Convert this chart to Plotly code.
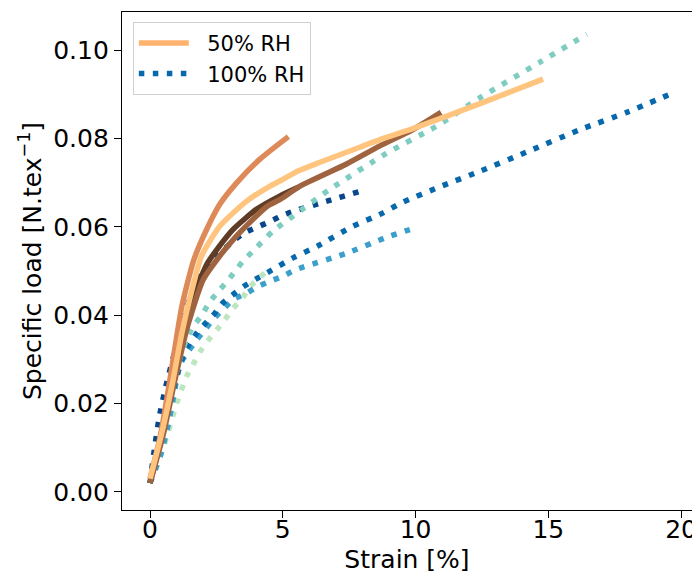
import plotly.graph_objects as go

# ---------------- data ----------------
# 50% RH curves (solid)
rh50_a_strain = [0, 0.4, 0.75, 1.2, 1.65, 2.14, 2.64, 3.27, 4.14, 5.21]
rh50_a_load = [0.003, 0.013, 0.0254, 0.042, 0.0525, 0.0595, 0.0652, 0.0700, 0.0753, 0.0804]

rh50_b_strain = [0, 0.45, 0.87, 1.2, 1.55, 1.95, 2.64, 3.64, 4.52, 5.0, 5.57, 6.4, 7.9, 8.66, 9.9, 12.4, 14.8]
rh50_b_load = [0.003, 0.0135, 0.0254, 0.036, 0.045, 0.0535, 0.0602, 0.0658, 0.0692, 0.0707, 0.0726,
               0.0746, 0.0780, 0.0797, 0.0822, 0.0878, 0.0934]

rh50_c_strain = [0, 0.5, 0.94, 1.39, 2.0, 2.64, 3.27, 4.4, 4.9, 5.65, 7.4, 8.66, 9.9, 10.96]
rh50_c_load = [0.002, 0.013, 0.0254, 0.037, 0.048, 0.0535, 0.058, 0.0646, 0.0662, 0.0692, 0.0742,
               0.0783, 0.082, 0.0859]

rh50_d_strain = [0, 0.5, 0.9, 1.5, 2.14, 2.6, 3.13, 4.02, 4.9, 5.6]
rh50_d_load = [0.002, 0.014, 0.026, 0.042, 0.0515, 0.0555, 0.0594, 0.064, 0.067, 0.0690]

# 100% RH curves (dotted)
rh100_e_strain = [0, 0.5, 0.9, 1.2, 1.39, 1.62, 1.96, 2.22, 2.52, 2.9, 3.2, 3.5, 3.88, 4.63, 5.4,
                  6.78, 8.9, 10.8, 12.4, 14.7, 16.45]
rh100_e_load = [0.002, 0.014, 0.025, 0.0317, 0.0347, 0.0374, 0.040, 0.0428, 0.045, 0.0476, 0.0499,
                0.0522, 0.0545, 0.059, 0.0625, 0.0685, 0.0766, 0.0828, 0.0891, 0.0973, 0.1036]

rh100_f_strain = [0, 0.15, 0.35, 0.6, 0.9, 1.3, 1.77, 2.3, 3.08, 3.58, 4.07, 4.52, 5.0, 5.5, 6.5, 7.9, 8.05]
rh100_f_load = [0.002, 0.009, 0.017, 0.024, 0.031, 0.040, 0.048, 0.052, 0.0565, 0.0587, 0.060,
                0.0612, 0.0626, 0.0637, 0.0655, 0.068, 0.0683]

rh100_g_strain = [0, 0.5, 1.0, 1.2, 1.43, 1.77, 2.14, 2.45, 2.75, 3.2, 3.58, 4.0, 4.44, 5.4, 6.3,
                  7.6, 8.66, 9.5, 10.9, 12.4, 14.3, 16.2, 18.0, 19.7]
rh100_g_load = [0.002, 0.014, 0.026, 0.030, 0.033, 0.036, 0.0385, 0.0405, 0.0428, 0.045, 0.0467,
                0.0482, 0.0497, 0.053, 0.0556, 0.060, 0.0628, 0.0655, 0.069, 0.0725, 0.0772,
                0.082, 0.086, 0.0903]

rh100_h_strain = [0, 0.38, 0.64, 0.87, 1.13, 1.43, 1.77, 2.07, 2.37, 2.75, 3.13, 3.65, 4.0, 4.5,
                  5.0, 5.5, 7.4, 8.9, 9.9]
rh100_h_load = [0.002, 0.008, 0.014, 0.021, 0.0288, 0.0317, 0.0345, 0.0367, 0.039, 0.0413, 0.0435,
                0.045, 0.0463, 0.0476, 0.0488, 0.0503, 0.054, 0.0576, 0.0596]

rh100_i_strain = [0, 0.5, 1.0, 1.39, 1.62, 1.88, 2.18, 2.52, 2.82, 3.13, 3.5, 3.77, 4.14, 4.5]
rh100_i_load = [0.002, 0.010, 0.020, 0.0263, 0.0288, 0.0317, 0.0342, 0.0367, 0.039, 0.0415, 0.044,
                0.0465, 0.0485, 0.0508]

x_ticks = [0, 5, 10, 15, 20]
y_ticks = [0.00, 0.02, 0.04, 0.06, 0.08, 0.10]
legend_labels = ["50% RH", "100% RH"]

# ---------------- styles ----------------
FONT = "DejaVu Sans"
LW = 5.5
DOT = "5.5px,8.5px"

dotted = [
    (rh100_i_strain, rh100_i_load, "#bde5bf"),
    (rh100_h_strain, rh100_h_load, "#3a9fcb"),
    (rh100_g_strain, rh100_g_load, "#0868ac"),
    (rh100_f_strain, rh100_f_load, "#08478b"),
    (rh100_e_strain, rh100_e_load, "#7fcdc1"),
]
solid = [
    (rh50_d_strain, rh50_d_load, "#5f3c26"),
    (rh50_c_strain, rh50_c_load, "#9f633f"),
    (rh50_a_strain, rh50_a_load, "#de8a58"),
    (rh50_b_strain, rh50_b_load, "#ffc47e"),
]

fig = go.Figure()
for xs, ys, c in dotted:
    fig.add_trace(go.Scatter(x=xs, y=ys, mode="lines", showlegend=False, hoverinfo="skip",
                             line=dict(color=c, width=LW, dash=DOT, shape="spline", smoothing=0.6)))
for xs, ys, c in solid:
    fig.add_trace(go.Scatter(x=xs, y=ys, mode="lines", showlegend=False, hoverinfo="skip",
                             line=dict(color=c, width=LW, shape="spline", smoothing=0.6)))

# legend entries
NBSP = "\u00a0"
fig.add_trace(go.Scatter(x=[None], y=[None], mode="lines", name=NBSP * 2 + legend_labels[0],
                         line=dict(color="#ffb36f", width=LW)))
fig.add_trace(go.Scatter(x=[None], y=[None], mode="lines", name=NBSP * 2 + legend_labels[1],
                         line=dict(color="#0868ac", width=LW, dash=DOT)))

fig.update_layout(
    width=692, height=577,
    margin=dict(l=122, r=0, t=12, b=67),
    paper_bgcolor="white", plot_bgcolor="white",
    font=dict(family=FONT, size=25, color="black"),
    showlegend=True,
    legend=dict(x=0.019, y=0.98, xanchor="left", yanchor="top",
                bgcolor="white", bordercolor="#d0d0d0", borderwidth=1,
                font=dict(family=FONT, size=21, color="black"),
                itemwidth=50, tracegroupgap=0),
)
fig.update_xaxes(
    range=[-1.055, 20.41], tickvals=x_ticks, ticktext=[str(v) for v in x_ticks],
    automargin=False, ticklabeloverflow="allow", ticklabelstandoff=-10,
    showgrid=False, zeroline=False, showline=True, mirror=True, linecolor="black", linewidth=1.2,
    ticks="outside", ticklen=7, tickwidth=1.2, tickcolor="black",
    tickfont=dict(family=FONT, size=25, color="black"),
    title=dict(text="Strain [%]", font=dict(family=FONT, size=25, color="black"), standoff=7),
)
fig.update_yaxes(
    range=[-0.0041, 0.1086], tickvals=y_ticks, ticktext=[f"{v:.2f}" for v in y_ticks],
    automargin=False,
    showgrid=False, zeroline=False, showline=True, mirror=False, linecolor="black", linewidth=1.2,
    ticks="outside", ticklen=7, tickwidth=1.2, tickcolor="black",
    tickfont=dict(family=FONT, size=25, color="black"),
    title=dict(text="Specific load [N.tex<sup>−1</sup>]", font=dict(family=FONT, size=25, color="black"),
               standoff=4),
)

fig.write_html("out.html", config={"displayModeBar": False},
               post_script="document.body.style.margin='0';document.body.style.overflow='hidden';")
